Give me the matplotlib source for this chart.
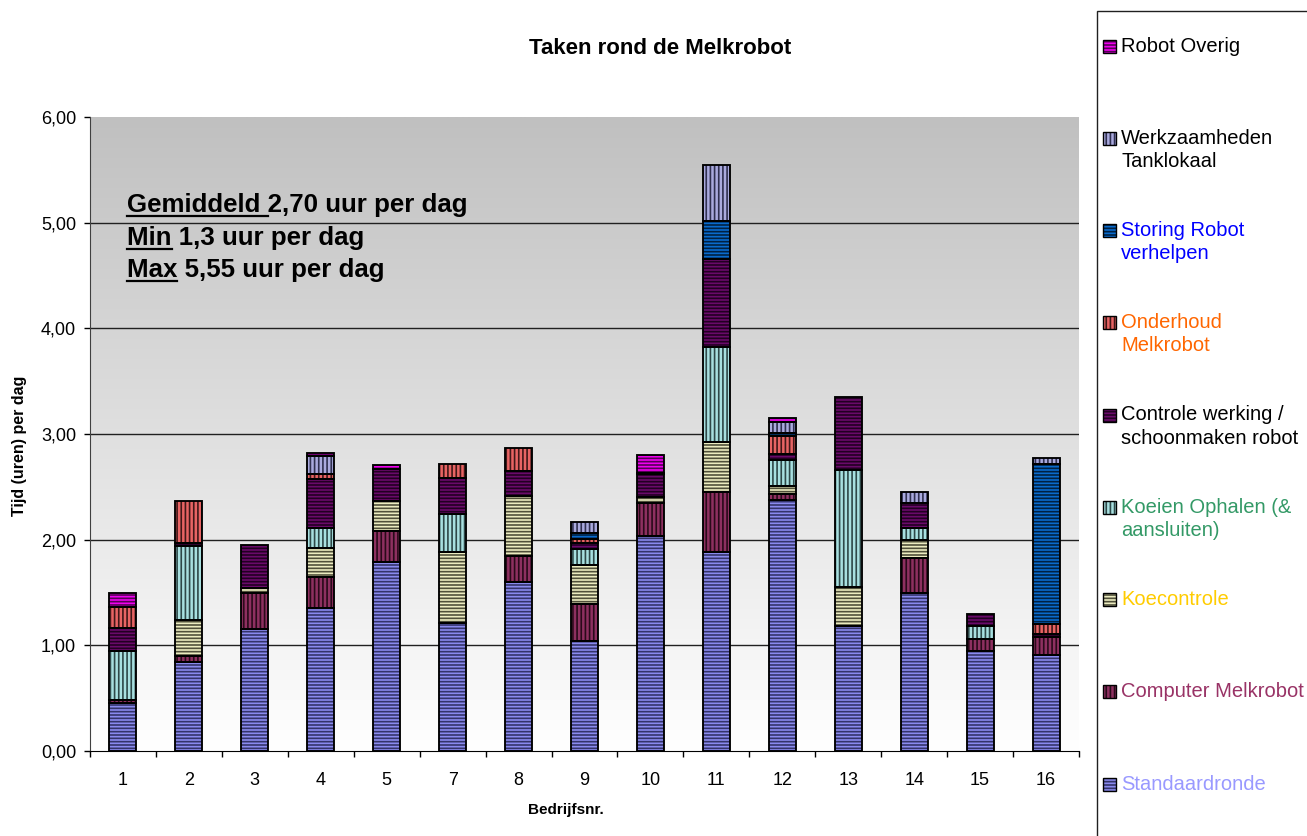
import numpy as np
import matplotlib
matplotlib.use("Agg")
import matplotlib.pyplot as plt
from matplotlib.patches import Rectangle
from matplotlib.lines import Line2D

plt.rcParams['font.family'] = ['Liberation Sans', 'DejaVu Sans']
plt.rcParams['hatch.linewidth'] = 1.2

# ---- data (uren per dag) ----
bedrijven = ['1', '2', '3', '4', '5', '7', '8', '9', '10', '11', '12', '13', '14', '15', '16']

standaardronde     = [0.45, 0.84, 1.15, 1.35, 1.79, 1.21, 1.60, 1.04, 2.03, 1.88, 2.38, 1.18, 1.50, 0.95, 0.91]
computer_melkrobot = [0.03, 0.06, 0.35, 0.30, 0.29, 0.00, 0.25, 0.35, 0.32, 0.57, 0.05, 0.00, 0.33, 0.11, 0.17]
koecontrole        = [0.00, 0.34, 0.04, 0.27, 0.29, 0.67, 0.56, 0.37, 0.05, 0.47, 0.08, 0.37, 0.17, 0.00, 0.00]
koeien_ophalen     = [0.47, 0.70, 0.00, 0.19, 0.00, 0.36, 0.00, 0.15, 0.00, 0.90, 0.24, 1.11, 0.11, 0.12, 0.00]
controle_werking   = [0.21, 0.03, 0.41, 0.46, 0.30, 0.34, 0.24, 0.055, 0.22, 0.84, 0.06, 0.69, 0.24, 0.12, 0.03]
onderhoud          = [0.20, 0.40, 0.00, 0.05, 0.00, 0.14, 0.22, 0.045, 0.00, 0.00, 0.17, 0.00, 0.00, 0.00, 0.09]
storing_robot      = [0.00, 0.00, 0.00, 0.00, 0.00, 0.00, 0.00, 0.055, 0.01, 0.36, 0.03, 0.00, 0.00, 0.00, 1.52]
werkzaamheden      = [0.00, 0.00, 0.00, 0.17, 0.00, 0.00, 0.00, 0.10, 0.00, 0.53, 0.10, 0.00, 0.10, 0.00, 0.05]
robot_overig       = [0.14, 0.00, 0.00, 0.03, 0.04, 0.00, 0.00, 0.00, 0.17, 0.00, 0.04, 0.00, 0.00, 0.00, 0.00]

gemiddeld = 2.70
minimum = 1.3
maximum = 5.55

# series bottom -> top: values, legend lines, fill, hatch colour, hatch, legend text colour
series = [
    (standaardronde,     ['Standaardronde'],                       '#8A8AEE', '#34346A', '-----', '#9999FF'),
    (computer_melkrobot, ['Computer Melkrobot'],                   '#8E3060', '#2A0A1A', '||||',  '#993366'),
    (koecontrole,        ['Koecontrole'],                          '#ECECC0', '#50503A', '-----', '#FFCC00'),
    (koeien_ophalen,     ['Koeien Ophalen (&', 'aansluiten)'],     '#A8E0E0', '#2E4848', '||||',  '#339966'),
    (controle_werking,   ['Controle werking /', 'schoonmaken robot'], '#6A0A6A', '#220022', '-----', '#000000'),
    (onderhoud,          ['Onderhoud', 'Melkrobot'],               '#E86464', '#401818', '||||',  '#FF6600'),
    (storing_robot,      ['Storing Robot', 'verhelpen'],           '#0A6ACC', '#002244', '-----', '#0000FF'),
    (werkzaamheden,      ['Werkzaamheden', 'Tanklokaal'],          '#AAAADE', '#303050', '||||',  '#000000'),
    (robot_overig,       ['Robot Overig'],                         '#F000F0', '#550055', '-----', '#000000'),
]

W, H = 1307, 836
fig = plt.figure(figsize=(W / 100, H / 100), dpi=100)
fig.patch.set_facecolor('white')


def fx(x):
    return x / W


def fy(y):
    return 1 - y / H


ax = fig.add_axes([fx(90), fy(751), (1079 - 90) / W, (751 - 117) / H])

# grey-to-white plot area
shade = np.linspace(0, 1, 256).reshape(-1, 1, 1)
top_c = np.array([0xC0, 0xC0, 0xC0]) / 255.0
img = top_c + (1 - top_c) * shade
img = np.repeat(img, 2, axis=1)
ax.imshow(img, extent=[0, 1, 0, 1], transform=ax.transAxes, aspect='auto',
          zorder=0, interpolation='bilinear')

for g in range(1, 6):
    ax.axhline(g, color='#202020', lw=1.0, zorder=1)

x = np.arange(len(bedrijven))
bw = 0.41
bottom = np.zeros(len(bedrijven))
for vals, lines, face, hcol, hatch, tcol in series:
    vals = np.asarray(vals, dtype=float)
    mask = vals > 0
    ax.bar(x[mask], vals[mask], bw, bottom=bottom[mask], color=face,
           edgecolor=hcol, hatch=hatch, linewidth=0, zorder=2)
    ax.bar(x[mask], vals[mask], bw, bottom=bottom[mask], fill=False,
           edgecolor='black', linewidth=1.35, zorder=3)
    bottom += vals

ax.set_xlim(-0.5, len(bedrijven) - 0.5)
ax.set_ylim(0, 6)

ax.set_yticks(np.arange(0, 7, 1))
ax.set_yticklabels([f'{v:.2f}'.replace('.', ',') for v in np.arange(0, 7, 1)])
ax.set_xticks(x)
ax.set_xticklabels(bedrijven)
ax.set_xticks(np.arange(-0.5, len(bedrijven), 1), minor=True)
ax.tick_params(axis='y', direction='out', length=4, width=1, pad=6, labelsize=13)
ax.tick_params(axis='x', which='major', length=0, pad=15, labelsize=13)
ax.tick_params(axis='x', which='minor', direction='out', length=4.5, width=1)

for s in ('top', 'right'):
    ax.spines[s].set_visible(False)
ax.spines['left'].set_color('#404040')
ax.spines['bottom'].set_color('black')
ax.spines['left'].set_zorder(4)
ax.spines['bottom'].set_zorder(4)

# titles
fig.text(fx(660), fy(48), 'Taken rond de Melkrobot', ha='center', va='center',
         fontsize=16, fontweight='bold')
fig.text(fx(566), fy(810), 'Bedrijfsnr.', ha='center', va='center',
         fontsize=11, fontweight='bold')
fig.text(fx(20), fy(446), 'Tijd (uren) per dag', ha='center', va='center',
         rotation=90, fontsize=11.5, fontweight='bold')

# legend panel
fig.add_artist(Rectangle((fx(1097), fy(H + 10)), (300) / W, (H + 10 - 11) / H,
                         transform=fig.transFigure, fill=False,
                         edgecolor='#202020', linewidth=1.0))
for i, (vals, lines, face, hcol, hatch, tcol) in enumerate(reversed(series)):
    yc = 46 + 92.25 * i
    fig.add_artist(Rectangle((fx(1103), fy(yc + 6.5)), 13 / W, 13 / H,
                             transform=fig.transFigure, facecolor=face,
                             edgecolor=hcol, hatch=hatch, linewidth=0))
    fig.add_artist(Rectangle((fx(1103), fy(yc + 6.5)), 13 / W, 13 / H,
                             transform=fig.transFigure, fill=False,
                             edgecolor='black', linewidth=1.0))
    for k, line in enumerate(lines):
        fig.text(fx(1121), fy(yc + 23 * k), line, ha='left', va='center',
                 fontsize=14.5, color=tcol)

# summary text with underlined keywords
fig.canvas.draw()
renderer = fig.canvas.get_renderer()
kw = dict(fontsize=18.6, fontweight='bold')


def text_w(s):
    t = fig.text(0, 0, s, **kw)
    w = t.get_window_extent(renderer).width
    t.remove()
    return w


space_w = text_w('a a') - text_w('aa')
summary = [
    ('Gemiddeld ', f'{gemiddeld:.2f}'.replace('.', ',') + ' uur per dag', 212),
    ('Min', ' ' + f'{minimum:.1f}'.replace('.', ',') + ' uur per dag', 245),
    ('Max', ' ' + f'{maximum:.2f}'.replace('.', ',') + ' uur per dag', 277),
]
x0 = 127
for head, rest, base in summary:
    fig.text(fx(x0), fy(base), head + rest, ha='left', va='baseline', **kw)
    uw = text_w(head.strip()) + (space_w if head.endswith(' ') else 0)
    fig.add_artist(Line2D([fx(x0), fx(x0 + uw)], [fy(base + 3.5), fy(base + 3.5)],
                          transform=fig.transFigure, color='black', linewidth=1.6))

fig.savefig('out.png', dpi=100, facecolor='white')
